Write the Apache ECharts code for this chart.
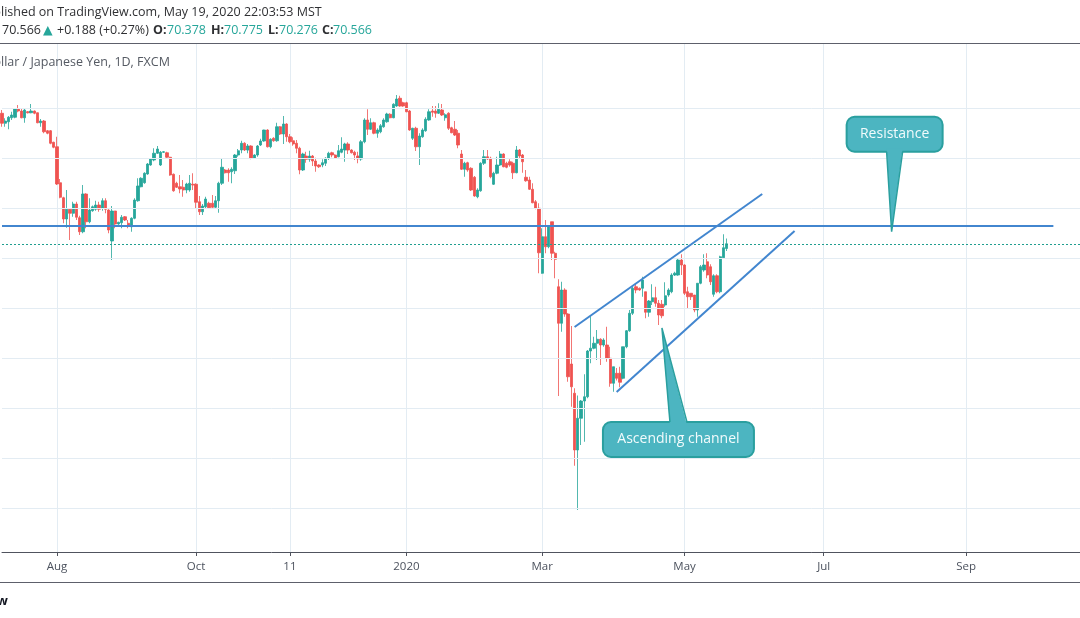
<!DOCTYPE html>
<html><head><meta charset="utf-8">
<script src="https://cdn.jsdelivr.net/npm/echarts@6/dist/echarts.min.js"></script>
<style>html,body{margin:0;padding:0;background:#fff}#c{width:1080px;height:618px}</style>
</head><body><div id="c"></div><script>
// ---------- data ----------
const startDate = '2019-07-09';
const holidays = ['2019-12-25', '2020-01-01'];
const categoryCount = 340;

const opens = [75.79,75.39,75.45,75.61,75.63,75.96,75.88,75.61,75.85,75.81,75.88,75.81,75.41,75.48,75.09,75.09,74.63,74.45,73.01,72.41,
71.56,71.95,71.79,72.16,71.61,71.05,72.56,71.45,71.89,71.95,72.12,71.99,72.29,71.92,70.68,71.88,71.36,71.41,71.65,71.39,
71.25,71.59,72.29,72.85,73.01,73.36,73.72,73.92,74.19,73.72,74.23,74.21,74.03,73.35,72.99,72.85,72.83,72.72,72.72,72.95,
72.95,72.25,71.85,72.05,72.19,72.19,72.03,72.29,72.99,73.52,73.52,73.45,73.49,74.12,74.32,74.59,74.32,74.48,73.99,74.12,
74.52,74.68,75.12,74.45,74.79,74.69,75.25,74.96,75.36,74.85,74.69,74.59,74.39,73.52,74.08,73.95,74.08,73.88,73.72,73.72,
73.79,73.99,74.21,74.12,74.05,74.23,74.32,74.56,74.32,74.23,74.08,
73.96,74.65,75.52,75.15,75.41,74.99,75.05,75.25,75.45,75.75,75.61,76.08,76.39,76.21,76.21,75.88,74.79,75.19,74.45,74.85,
75.09,75.52,75.88,75.88,75.79,75.92,75.61,75.79,75.21,75.15,74.99,74.16,73.55,73.81,73.59,73.23,72.45,72.69,73.79,74.05,
73.99,72.95,73.39,73.72,74.16,73.79,73.85,73.79,73.41,74.32,74.12,73.23,73.12,72.75,72.25,
71.99,69.39,70.85,70.45,71.45,70.19,68.85,67.39,68.72,67.76,65.76,64.59,62.32,63.59,64.28,64.45,66.28,66.39,66.59,66.75,
66.52,66.52,65.99,64.99,65.39,65.39,65.19,66.45,67.09,67.79,68.85,68.79,68.79,
68.65,67.83,68.25,68.41,68.19,68.15,68.12,68.52,68.65,69.32,69.32,69.92,69.72,68.65,68.59,68.52,67.92,68.99,69.52,69.85,
69.65,68.55,69.29,68.65,70.01,70.38];

const highs = [75.92,75.59,75.68,75.85,75.99,76.12,75.99,75.96,75.88,76.16,75.90,75.82,75.56,75.52,75.12,75.12,74.65,74.85,73.16,72.45,
72.72,71.99,72.25,72.25,71.69,72.92,72.59,72.39,72.10,72.29,72.25,72.39,72.39,71.95,72.08,71.89,71.45,71.72,71.68,71.52,
71.63,72.39,73.19,73.23,73.43,73.80,74.00,74.39,74.48,74.28,74.28,74.25,74.05,73.38,73.05,73.32,73.12,73.01,73.32,73.39,
72.99,72.48,72.16,72.45,72.25,72.52,72.48,73.05,73.96,73.56,73.59,73.63,74.16,74.36,74.69,74.63,74.56,74.51,74.15,74.52,
74.77,75.13,75.15,74.79,74.83,75.41,75.28,75.68,75.39,74.96,74.83,74.72,74.45,74.21,74.25,74.29,74.12,74.01,73.75,73.95,
74.03,74.25,74.25,74.15,74.52,74.83,74.61,74.63,74.35,74.29,74.25,
74.72,75.59,75.95,75.59,75.45,75.19,75.36,75.59,75.81,75.79,76.19,76.52,76.49,76.25,76.25,75.92,75.21,75.25,74.99,75.19,
75.63,75.95,76.08,76.08,76.19,76.16,75.79,75.83,75.25,75.48,75.12,74.32,73.85,73.85,73.63,73.28,72.79,73.83,74.32,74.32,
74.05,73.45,74.05,74.28,74.19,73.85,73.95,73.85,74.48,74.36,74.16,73.52,73.25,72.99,72.32,
72.19,71.19,71.52,71.32,71.45,70.25,69.15,69.05,68.79,67.79,67.28,64.79,64.50,64.32,65.35,66.32,67.72,66.85,67.12,66.79,
66.79,67.25,66.45,65.65,65.60,65.65,66.45,67.12,67.92,68.85,68.99,68.82,69.25,
68.65,68.32,68.95,68.85,68.32,68.32,69.03,68.79,69.39,69.45,69.99,70.15,69.75,68.85,68.59,68.52,68.99,69.72,70.15,70.19,
69.75,69.35,69.35,70.09,70.95,70.78];

const lows = [75.25,75.25,75.15,75.52,75.59,75.83,75.59,75.41,75.78,75.79,75.75,75.39,75.25,74.99,74.95,74.55,74.39,72.92,72.39,71.39,
71.21,70.72,71.65,71.52,70.92,70.99,71.19,71.39,71.85,71.89,71.85,71.89,71.79,70.99,69.92,71.19,71.33,71.19,71.48,71.19,
71.05,71.55,72.25,72.83,72.97,73.33,73.69,73.87,74.16,73.68,74.20,73.99,73.29,72.65,72.80,72.59,72.45,72.59,72.65,72.72,
71.99,71.72,71.72,71.99,71.96,71.99,71.99,71.81,72.92,73.38,73.05,72.99,73.36,74.05,74.19,74.28,74.19,73.95,73.96,74.05,
74.48,74.65,74.42,74.39,74.65,74.65,74.92,74.56,74.65,74.59,74.49,74.19,73.35,73.48,73.81,73.85,73.68,73.45,73.60,73.63,
73.68,73.92,74.03,73.96,74.03,74.19,73.85,74.16,74.18,73.92,73.79,
73.89,74.59,74.92,75.12,74.95,74.81,74.99,75.21,75.41,75.59,75.59,76.05,76.05,76.05,75.83,75.09,74.72,74.28,73.72,74.81,
75.05,75.49,75.65,75.61,75.76,75.68,75.49,75.12,74.99,74.88,74.39,73.52,73.25,73.45,72.68,72.45,72.39,72.65,73.72,73.92,
73.19,72.92,73.35,73.68,73.63,73.59,73.65,73.16,73.39,73.99,73.41,73.05,72.72,72.19,71.95,
69.39,69.37,70.19,70.39,69.92,69.19,64.48,67.05,67.65,65.05,64.05,61.69,59.92,62.52,62.65,64.39,65.79,66.35,65.92,65.72,
66.45,65.85,64.85,64.65,65.10,64.83,65.15,66.39,67.05,67.72,68.59,68.69,68.45,
67.59,67.65,68.12,68.05,67.32,67.59,68.05,68.45,68.59,69.28,69.29,69.32,68.52,67.99,68.32,67.83,67.65,68.95,69.45,69.19,
68.92,68.45,68.59,68.59,69.99,70.28];

const closes = [75.39,75.48,75.63,75.72,75.96,75.88,75.61,75.92,75.81,75.88,75.79,75.41,75.48,75.05,74.99,74.59,74.43,72.96,72.43,71.56,
71.95,71.79,72.16,71.63,71.05,72.56,71.45,71.92,72.05,72.12,71.95,72.29,71.95,71.12,71.88,71.36,71.43,71.63,71.52,71.29,
71.59,72.32,72.88,73.19,73.39,73.76,73.97,74.19,74.36,74.23,74.25,74.03,73.32,72.69,72.83,72.76,72.72,72.96,72.99,72.92,
72.23,71.85,72.08,72.36,72.01,72.03,72.29,72.99,73.63,73.41,73.41,73.55,74.12,74.29,74.59,74.32,74.48,73.99,74.12,74.48,
74.68,75.12,74.45,74.75,74.69,75.25,74.96,75.36,74.85,74.65,74.56,74.39,73.52,74.16,73.95,74.08,73.88,73.68,73.65,73.81,
73.99,74.19,74.12,73.99,74.29,74.36,74.56,74.32,74.21,74.12,73.97,
74.65,75.52,75.15,75.41,74.99,75.12,75.29,75.52,75.76,75.61,76.15,76.36,76.08,76.08,75.85,75.12,75.19,74.45,74.88,75.12,
75.55,75.85,75.83,75.79,75.95,75.72,75.73,75.19,75.01,74.92,74.52,73.55,73.79,73.52,72.72,72.48,72.72,73.79,74.05,73.96,
73.25,73.39,73.72,74.16,73.65,73.63,73.72,73.41,74.32,74.08,73.85,73.09,72.75,72.21,71.99,
70.21,70.85,70.45,71.28,70.19,69.95,67.39,68.72,67.76,65.25,64.85,62.32,63.59,64.28,64.45,66.28,66.39,66.59,66.75,66.52,
66.72,65.99,64.99,65.65,65.19,65.03,66.45,67.09,67.79,68.79,68.72,68.72,69.12,
67.83,68.28,68.41,68.19,67.72,67.69,68.49,68.72,69.32,69.39,69.92,69.72,68.59,68.45,68.45,67.92,68.99,69.65,69.72,69.32,
69.05,69.29,68.65,70.05,70.41,70.57];

const tickLabels = [['2019-08-01','Aug'],['2019-10-01','Oct'],['2019-11-11','11'],['2020-01-02','2020'],
  ['2020-03-02','Mar'],['2020-05-01','May'],['2020-07-01','Jul'],['2020-09-01','Sep']];
const gridLevels = [60,62,64,66,68,70,72,74,76];
const lastPrice = 70.566;
const resistanceLine = [['2019-07-09', 71.30], ['2020-10-08', 71.30]];
const channelUpper = [['2020-03-16', 67.24], ['2020-06-04', 72.56]];
const channelLower = [['2020-04-02', 64.64], ['2020-06-18', 71.08]];
const calloutResistance = {text: 'Resistance', anchor: ['2020-07-30', 71.05]};
const calloutChannel = {text: 'Ascending channel', anchor: ['2020-04-22', 67.20]};

// ---------- categories ----------
function buildDates() {
  const out = []; const d = new Date(startDate + 'T00:00:00Z');
  while (out.length < categoryCount) {
    const wd = d.getUTCDay(); const s = d.toISOString().slice(0, 10);
    if (wd !== 0 && wd !== 6 && holidays.indexOf(s) < 0) out.push(s);
    d.setUTCDate(d.getUTCDate() + 1);
  }
  return out;
}
const dates = buildDates();
const tickMap = {}; tickLabels.forEach(t => tickMap[t[0]] = t[1]);
const isTick = (i, v) => Object.prototype.hasOwnProperty.call(tickMap, v);
const candles = opens.map((o, i) => [o, closes[i], lows[i], highs[i]]);
const seg = l => [{coord: [dates.indexOf(l[0][0]), l[0][1]]}, {coord: [dates.indexOf(l[1][0]), l[1][1]]}];

// ---------- style ----------
const UP = '#26a69a', DOWN = '#ef5350', GRIDC = '#e3ecf3', AXISC = '#50535e', TREND = '#4286cf';
const step = 3.235;
const FONT = '"Open Sans", "Noto Sans", sans-serif';

const chart = echarts.init(document.getElementById('c'), null, {renderer: 'canvas'});
chart.setOption({
  animation: false,
  backgroundColor: '#ffffff',
  grid: {left: 2, top: 44, width: (categoryCount - 1) * step, height: 508, containLabel: false, outerBoundsMode: 'none'},
  xAxis: {
    type: 'category', data: dates, boundaryGap: false,
    axisLine: {show: true, lineStyle: {color: AXISC, width: 1}},
    axisTick: {show: true, interval: isTick, length: 4, lineStyle: {color: AXISC}},
    axisLabel: {interval: isTick, formatter: v => tickMap[v] || '', color: '#4c525e', fontSize: 11.5, fontFamily: FONT, margin: 9},
    splitLine: {show: true, interval: isTick, lineStyle: {color: GRIDC, width: 1}}
  },
  yAxis: {type: 'value', min: 58.24, max: 78.56, show: false, scale: true},
  series: [
    {type: 'line', data: [], z: 1, silent: true,
     markLine: {silent: true, animation: false, symbol: ['none', 'none'], label: {show: false},
       lineStyle: {color: GRIDC, width: 1, type: 'solid'}, emphasis: {disabled: true},
       data: gridLevels.map(v => ({yAxis: v}))}},
    {type: 'candlestick', z: 3, data: candles, barWidth: 2.8, silent: true,
     itemStyle: {color: UP, color0: DOWN, borderColor: UP, borderColor0: DOWN, borderWidth: 0.8}},
    {type: 'line', data: [], z: 4, silent: true,
     markLine: {silent: true, animation: false, symbol: ['none', 'none'], label: {show: false},
       lineStyle: {color: '#1f9e8f', width: 1, type: [2, 2]}, emphasis: {disabled: true},
       data: [{yAxis: lastPrice}]}},
    {type: 'line', data: [], z: 5, silent: true,
     markLine: {silent: true, animation: false, symbol: ['none', 'none'], label: {show: false},
       lineStyle: {color: TREND, width: 2, type: 'solid'}, emphasis: {disabled: true},
       data: [seg(resistanceLine), seg(channelUpper), seg(channelLower)]}}
  ]
});

// ---------- annotations & header ----------
const mctx = document.createElement('canvas').getContext('2d');
function textW(t, font) { mctx.font = font; return mctx.measureText(t).width; }
const HFONT = '12.5px "Open Sans"';
const DARK = '#2f3033', TEAL = '#26a69a';
const els = [];
function txt(t, x, y, color, weight, size, align) {
  els.push({type: 'text', z: 100, x: x, y: y, silent: true,
    style: {text: t, fill: color, font: (weight || 'normal') + ' ' + (size || 12.5) + 'px "Open Sans", "DejaVu Sans", sans-serif',
      textAlign: align || 'left', textVerticalAlign: 'middle', verticalAlign: 'middle'}});
}
txt('Published on TradingView.com, May 19, 2020 22:03:53 MST', 1 - textW('Pub', HFONT), 12, DARK);
[['70.566', 2, DARK, 'normal'], ['▲', 43, TEAL, 'normal'], ['+0.188 (+0.27%)', 57, DARK, 'normal'],
 ['O:', 153, DARK, 'bold'], ['70.378', 167, TEAL, 'normal'], ['H:', 211, DARK, 'bold'], ['70.775', 224, TEAL, 'normal'],
 ['L:', 268, DARK, 'bold'], ['70.276', 279, TEAL, 'normal'], ['C:', 322, DARK, 'bold'], ['70.566', 333, TEAL, 'normal']]
 .forEach(p => txt(p[0], p[1], 30, p[2], p[3]));
txt('Australian Dollar / Japanese Yen, 1D, FXCM', 1 - textW('Australian Do', HFONT), 62, '#555a63');
txt('TradingView', 8, 601, '#131722', 'bold', 13, 'right');
els.push({type: 'line', z: 100, silent: true, shape: {x1: 0, y1: 43.5, x2: 1080, y2: 43.5}, style: {stroke: '#5d606b', lineWidth: 1}});
els.push({type: 'line', z: 100, silent: true, shape: {x1: 0, y1: 582.5, x2: 1080, y2: 582.5}, style: {stroke: '#5d606b', lineWidth: 1}});

const BOXF = '#4cb5c1', BOXS = '#2a9f9f';
function callout(c, box, base, belowTip) {
  const p = chart.convertToPixel({gridIndex: 0}, [dates.indexOf(c.anchor[0]), c.anchor[1]]);
  const tx = p[0], ty = p[1];
  const bx = tx + box[0], by = ty + box[1], bw = box[2], bh = box[3];
  const edge = belowTip ? by : by + bh;
  const inner = belowTip ? edge + 3 : edge - 3;
  els.push({type: 'rect', z: 100, silent: true, shape: {x: bx, y: by, width: bw, height: bh, r: 8},
    style: {fill: BOXF, stroke: BOXS, lineWidth: 2}});
  els.push({type: 'polygon', z: 101, silent: true,
    shape: {points: [[tx + base[0], inner], [tx + base[1], inner], [tx, ty]]}, style: {fill: BOXF}});
  els.push({type: 'polyline', z: 102, silent: true, shape: {points: [[tx + base[0], edge], [tx, ty], [tx + base[1], edge]]},
    style: {stroke: BOXS, lineWidth: 1.5, fill: null}});
  els.push({type: 'text', z: 103, silent: true, x: bx + bw / 2, y: by + bh / 2,
    style: {text: c.text, fill: '#f2fbfc', font: '14px "Open Sans", sans-serif', textAlign: 'center',
      textVerticalAlign: 'middle', verticalAlign: 'middle'}});
}
callout(calloutResistance, [-45, -115, 96, 35], [-5, 11], false);
callout(calloutChannel, [-59, 94, 151, 35], [8, 25], true);
chart.setOption({graphic: {elements: els}});
</script></body></html>
